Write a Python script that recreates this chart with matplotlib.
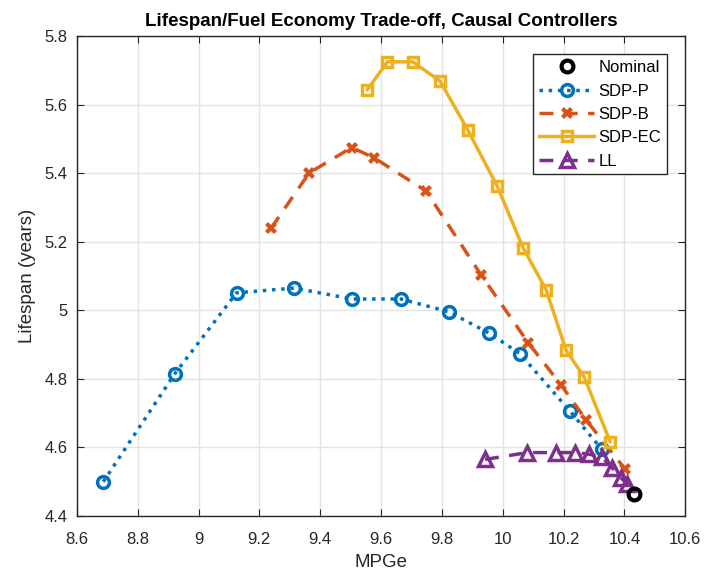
import numpy as np
import matplotlib
matplotlib.use("Agg")
import matplotlib.pyplot as plt
from matplotlib.ticker import FuncFormatter

plt.rcParams.update({'font.family': ['Liberation Sans', 'DejaVu Sans'], 'font.size': 12})

# nominal controller
nom_mpge = [10.433]
nom_life = [4.463]

# SDP-P
p_mpge = [8.687, 8.922, 9.125, 9.315, 9.504, 9.665, 9.822, 9.956, 10.056, 10.222, 10.326]
p_life = [4.500, 4.815, 5.051, 5.065, 5.033, 5.033, 4.996, 4.933, 4.874, 4.705, 4.594]

# SDP-B
b_mpge = [9.238, 9.364, 9.504, 9.577, 9.748, 9.929, 10.084, 10.192, 10.274, 10.403]
b_life = [5.239, 5.401, 5.475, 5.445, 5.348, 5.103, 4.905, 4.782, 4.680, 4.536]

# SDP-EC
ec_mpge = [9.555, 9.621, 9.704, 9.794, 9.885, 9.982, 10.067, 10.143, 10.208, 10.268, 10.353]
ec_life = [5.644, 5.725, 5.725, 5.669, 5.526, 5.362, 5.182, 5.059, 4.884, 4.805, 4.617]

# LL
ll_mpge = [9.942, 10.081, 10.176, 10.238, 10.285, 10.326, 10.360, 10.390, 10.410]
ll_life = [4.565, 4.585, 4.585, 4.585, 4.580, 4.572, 4.540, 4.510, 4.493]

blue = "#0072BD"
orange = "#D95319"
yellow = "#EDB120"
purple = "#7E2F8E"

fig = plt.figure(figsize=(7.05, 5.73), dpi=100)
ax = fig.add_axes([0.109, 0.0995, 0.863, 0.8375])

ax.plot(nom_mpge, nom_life, ls="none", marker="o", ms=8.5, mew=3, mfc="none", color="black",
        label="Nominal", zorder=6)
ax.plot(p_mpge, p_life, ls=":", lw=2.5, marker="o", ms=8.5, mew=2.5, mfc="none", color=blue,
        label="SDP-P", zorder=3)
ax.plot(b_mpge, b_life, ls=(0, (4, 3)), lw=2.5, marker="X", ms=8, mew=0, color=orange,
        label="SDP-B", zorder=3)
ax.plot(ec_mpge, ec_life, ls="-", lw=2.5, marker="s", ms=7.5, mew=2.5, mfc="none", color=yellow,
        label="SDP-EC", zorder=4)
ax.plot(ll_mpge, ll_life, ls=(0, (4, 3)), lw=2.5, marker="^", ms=9.5, mew=2.5, mfc="none",
        color=purple, label="LL", zorder=5)

ax.set_xlim(8.6, 10.6)
ax.set_ylim(4.4, 5.8)
ax.set_xticks(np.arange(8.6, 10.61, 0.2))
ax.set_yticks(np.arange(4.4, 5.81, 0.2))
fmt = FuncFormatter(lambda v, pos: "%g" % round(v, 2))
ax.xaxis.set_major_formatter(fmt)
ax.yaxis.set_major_formatter(fmt)

ax.grid(True, color="#e3e3e3", lw=1)
ax.set_axisbelow(True)
for s in ax.spines.values():
    s.set_color("#262626")
    s.set_linewidth(1)
ax.tick_params(direction="in", length=5, top=True, right=True, colors="#262626",
               labelsize=12)
ax.tick_params(axis="x", pad=11.5)
ax.tick_params(axis="y", pad=6.5)

ax.set_xlabel("MPGe", fontsize=13.5, color="#262626", labelpad=5)
ax.set_ylabel("Lifespan (years)", fontsize=13.5, color="#262626", labelpad=6)
ax.set_title("Lifespan/Fuel Economy Trade-off, Causal Controllers", fontsize=13.5,
             fontweight="bold", pad=7)

leg = ax.legend(loc="upper right", fontsize=12, handlelength=3.3, fancybox=False,
                edgecolor="#262626", framealpha=1, borderaxespad=1.1,
                borderpad=0.35, labelspacing=0.5, handletextpad=0.25)
leg.get_frame().set_linewidth(1)

fig.savefig("out.png", dpi=100)
